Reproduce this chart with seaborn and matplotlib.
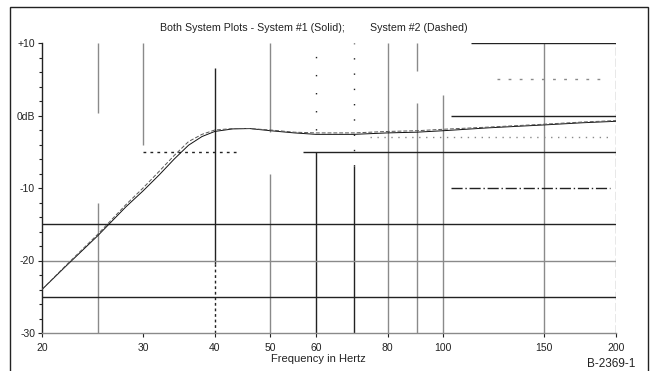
import numpy as np
import pandas as pd
import matplotlib
matplotlib.use("Agg")
import matplotlib.pyplot as plt
import seaborn as sns
from matplotlib.patches import Rectangle
from matplotlib.ticker import FixedLocator, MultipleLocator, NullFormatter

# ---- data ----
freq = [20, 22, 25, 28, 30, 32, 34, 36, 38, 40, 43, 46, 50, 55, 60, 70, 80, 90, 100, 120, 150, 175, 200]
system1_db = [-24.0, -20.8, -16.6, -12.6, -10.4, -8.2, -6.0, -4.1, -2.9, -2.2, -1.85, -1.8, -2.1,
              -2.4, -2.6, -2.6, -2.4, -2.3, -2.1, -1.7, -1.3, -1.0, -0.8]
system2_db = [-24.0, -20.7, -16.4, -12.3, -10.0, -7.7, -5.5, -3.6, -2.6, -2.0, -1.8, -1.8, -2.0,
              -2.3, -2.4, -2.4, -2.2, -2.1, -1.9, -1.6, -1.2, -0.9, -0.7]
xtick_values = [20, 30, 40, 50, 60, 80, 100, 150, 200]
xtick_labels = ["20", "30", "40", "50", "60", "80", "100", "150", "200"]
ytick_values = [10, 0, -10, -20, -30]
ytick_labels = ["+10", "0dB", "-10", "-20", "-30"]
title_left = "Both System Plots - System #1 (Solid);"
title_right = "System #2 (Dashed)"
xlabel_text = "Frequency in Hertz"
figure_id = "B-2369-1"

df = pd.DataFrame({
    "freq": freq * 2,
    "db": system1_db + system2_db,
    "system": ["System #1"] * len(freq) + ["System #2"] * len(freq),
})

sns.set_theme(style="white")
plt.rcParams["font.family"] = ["Liberation Sans", "DejaVu Sans"]

W, H = 655, 371
fig = plt.figure(figsize=(W / 100, H / 100), dpi=100)
L, R, T, B = 42, 616, 43, 333
ax = fig.add_axes([L / W, (H - B) / H, (R - L) / W, (B - T) / H])
ax.set_xscale("log")
ax.set_xlim(20, 200)
ax.set_ylim(-30, 10)

# ---- grid fragments (style, as in the scanned reference) ----
dark, grey = "#222222", "#8a8a8a"
vsegs = [
    (25, 0.3, 10, grey, "-"), (25, -30, -12, grey, "-"),
    (30, -4, 10, grey, "-"),
    (40, -20.5, 6.5, dark, "-"), (40, -30, -20.5, dark, (0, (2, 2))),
    (50, -2.3, 10, grey, "-"), (50, -30, -8, grey, "-"),
    (60, -30, -5, dark, "-"), (60, -2, 10, dark, (0, (1, 12))),
    (70, -30, -7, dark, "-"), (70, -7, 10, dark, (0, (1, 10))),
    (80, -30, 10, grey, "-"),
    (90, 6.2, 10, grey, "-"), (90, -30, 1.7, grey, "-"),
    (100, -30, 2.8, grey, "-"),
    (150, -30, 10, grey, "-"),
    (200, -30, 10, grey, (0, (6, 2))),
]
for x, y0, y1, c, ls in vsegs:
    ax.vlines(x, y0, y1, colors=c, linestyles=ls, linewidth=1.0, zorder=1)

hsegs = [
    (10, 112, 200, dark, "-"),
    (0, 103, 200, dark, "-"),
    (-5, 30, 44, dark, (0, (2, 3))),
    (-5, 57, 200, dark, "-"),
    (-10, 103, 195, dark, (0, (8, 2, 1, 2))),
    (-15, 20, 200, dark, "-"),
    (-20, 20, 200, grey, "-"),
    (-25, 20, 200, dark, "-"),
    (5, 124, 188, grey, (0, (2, 6))),
    (-3, 74.5, 195, grey, (0, (1, 4))),
]
for y, x0, x1, c, ls in hsegs:
    ax.hlines(y, x0, x1, colors=c, linestyles=ls, linewidth=1.0, zorder=1)

# ---- curves ----
sns.lineplot(data=df, x="freq", y="db", hue="system", style="system",
             palette=["#111111", "#555555"], dashes=["", (4, 2)],
             linewidth=0.7, legend=False, ax=ax, zorder=3)

# ---- axes cosmetics ----
for side in ["top", "right"]:
    ax.spines[side].set_visible(False)
ax.spines["left"].set_color(dark)
ax.spines["left"].set_linewidth(1.0)
ax.spines["bottom"].set_color(grey)
ax.spines["bottom"].set_linewidth(1.0)

ax.xaxis.set_major_locator(FixedLocator(xtick_values))
ax.xaxis.set_minor_locator(FixedLocator([]))
ax.set_xticklabels(xtick_labels)
ax.xaxis.set_minor_formatter(NullFormatter())
ax.set_yticks(ytick_values)
ax.set_yticklabels(ytick_labels)
ax.yaxis.set_minor_locator(MultipleLocator(2))
ax.tick_params(axis="both", which="major", length=3, width=0.8, color=dark,
               labelsize=7.5, colors="#222222")
ax.tick_params(axis="x", which="major", pad=4)
ax.tick_params(axis="y", which="major", pad=2)
ax.tick_params(axis="y", which="minor", length=2, width=0.8, color=dark, left=True)
ax.tick_params(axis="x", which="major", bottom=True)
ax.tick_params(axis="y", which="major", left=True)
ax.set_xlabel("")
ax.set_ylabel("")
ax.set_facecolor("white")

# ---- texts ----
fig.text(345 / W, 1 - 28 / H, title_left, ha="right", va="center", fontsize=7.7, color="#222222")
fig.text(370 / W, 1 - 28 / H, title_right, ha="left", va="center", fontsize=7.7, color="#222222")
fig.text(318 / W, 1 - 359 / H, xlabel_text, ha="center", va="center", fontsize=8, color="#222222")
fig.text(611 / W, 1 - 358 / H, figure_id, ha="center", va="top", fontsize=8.5, color="#222222")

# outer frame of the scanned figure
fig.patches.append(Rectangle((10 / W, -0.05), (648 - 10) / W, 1 - 7 / H + 0.05,
                             transform=fig.transFigure, fill=False,
                             edgecolor="#222222", linewidth=1.0))

fig.savefig("out.png", dpi=100, facecolor="white")
